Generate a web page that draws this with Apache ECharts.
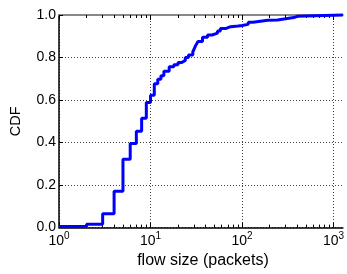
<!DOCTYPE html>
<html>
<head>
<meta charset="utf-8">
<script src="https://cdn.jsdelivr.net/npm/echarts@6/dist/echarts.min.js"></script>
<style>
  html, body { margin: 0; padding: 0; background: #fff; }
  #main { width: 347px; height: 274px; }
</style>
</head>
<body>
<div id="main"></div>
<script>
// flow size (packets) where the CDF steps, and the CDF value from that point on
const flowSizes = [1, 2, 3, 4, 5, 6, 7, 8, 9, 10, 11, 12, 13, 14, 16, 18, 20, 22, 24, 26, 29,
  30, 31, 32, 33, 37, 42, 47, 54, 58, 66, 75, 91, 100, 117, 132, 191, 244, 300, 368, 400, 1265]
const cdfValues = [0.005, 0.016, 0.065, 0.171, 0.321, 0.395, 0.453, 0.514, 0.588, 0.623, 0.677, 0.698,
  0.714, 0.736, 0.756, 0.766, 0.777, 0.786, 0.800, 0.812, 0.827, 0.840, 0.855, 0.865, 0.875, 0.895,
  0.906, 0.915, 0.925, 0.936, 0.945, 0.948, 0.951, 0.956, 0.966, 0.975, 0.977, 0.982, 0.988, 0.994,
  1.0, 1.0]
const yTicks = [0, 0.2, 0.4, 0.6, 0.8, 1.0]
const xMajorTicks = [1, 10, 100, 1000]
const xMinorTicks = [2, 3, 4, 5, 6, 7, 8, 9, 20, 30, 40, 50, 60, 70, 80, 90,
  200, 300, 400, 500, 600, 700, 800, 900]

const font = "'Liberation Sans', Arial, sans-serif"
const xMin = 1, xMax = 1265

var myChart = echarts.init(document.getElementById('main'))

function logAxis(pos, opts) {
  return Object.assign({
    type: 'log',
    logBase: 10,
    position: pos,
    min: xMin,
    max: xMax,
    axisLine: { show: false },
    axisTick: { show: false },
    axisLabel: { show: false },
    splitLine: { show: false }
  }, opts)
}

myChart.setOption({
  animation: false,
  textStyle: { fontFamily: font },
  grid: { left: 56, right: 0, top: 15, bottom: 39, containLabel: false },
  xAxis: [
    logAxis('bottom', {
      name: 'flow size (packets)',
      nameLocation: 'middle',
      nameGap: 21,
      nameTextStyle: { fontSize: 16, color: '#000', fontFamily: font, padding: [0, 0, 0, 4] },
      axisLine: { show: true, onZero: false, lineStyle: { color: '#000', width: 1.5 } },
      axisTick: { show: true, inside: true, length: 5, customValues: xMajorTicks, lineStyle: { color: '#000' } },
      axisLabel: {
        show: true,
        customValues: xMajorTicks,
        margin: 4,
        color: '#000',
        formatter: function (v) {
          return '{b|10}{s|' + Math.round(Math.log10(v)) + '}'
        },
        rich: {
          b: { fontSize: 14, fontFamily: font, color: '#000' },
          s: { fontSize: 10, fontFamily: font, color: '#000', padding: [0, 0, 9, 0] }
        }
      },
      splitLine: { show: true, lineStyle: { color: '#444', type: [1, 2], width: 1 } }
    }),
    logAxis('top', {
      axisLine: { show: true, onZero: false, lineStyle: { color: '#888', width: 2 } },
      axisTick: { show: true, inside: true, length: 5, customValues: xMajorTicks, lineStyle: { color: '#000' } }
    }),
    logAxis('bottom', {
      axisTick: { show: true, inside: true, length: 3, customValues: xMinorTicks, lineStyle: { color: '#000' } }
    }),
    logAxis('top', {
      axisTick: { show: true, inside: true, length: 3, customValues: xMinorTicks, lineStyle: { color: '#000' } }
    })
  ],
  yAxis: {
    type: 'value',
    min: 0,
    max: 1,
    interval: 0.2,
    name: 'CDF',
    nameLocation: 'middle',
    nameGap: 36,
    nameTextStyle: { fontSize: 14.5, color: '#000', fontFamily: font },
    axisLine: { show: true, lineStyle: { color: '#000', width: 1.5 } },
    axisTick: { show: true, inside: true, length: 4, lineStyle: { color: '#000' } },
    axisLabel: {
      margin: 3,
      fontSize: 14,
      color: '#000',
      customValues: yTicks,
      formatter: function (v) { return v.toFixed(1) }
    },
    splitLine: { show: true, lineStyle: { color: '#444', type: [1, 2], width: 1 } }
  },
  series: [{
    name: 'CDF',
    type: 'line',
    step: 'end',
    xAxisIndex: 0,
    showSymbol: false,
    symbol: 'none',
    clip: false,
    lineStyle: { color: '#0000ff', width: 3 },
    data: flowSizes.map((x, i) => [x, cdfValues[i]])
  }]
})
</script>
</body>
</html>
